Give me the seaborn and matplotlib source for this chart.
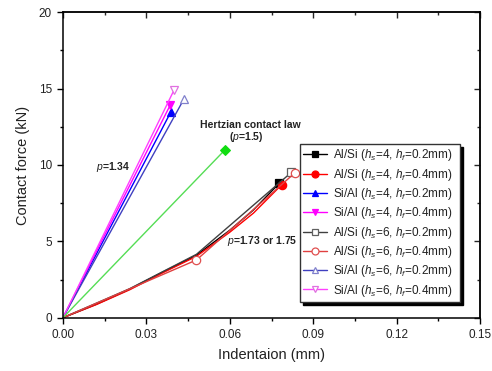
import matplotlib
matplotlib.use("Agg")
import matplotlib.pyplot as plt
import seaborn as sns
import pandas as pd
from matplotlib.ticker import MultipleLocator, FormatStrFormatter

sns.set_theme(style="white")
plt.rcParams['font.family'] = ['Liberation Sans', 'DejaVu Sans']
plt.rcParams['mathtext.fontset'] = 'custom'
plt.rcParams['mathtext.rm'] = 'Liberation Sans'
plt.rcParams['mathtext.it'] = 'Liberation Sans:italic'
plt.rcParams['mathtext.bf'] = 'Liberation Sans:bold'

# Indentation (mm) / contact force (kN) for each specimen
alsi_4_02_x = [0.0, 0.012, 0.024, 0.036, 0.048, 0.060, 0.0684, 0.0778]
alsi_4_02_y = [0.0, 0.88, 1.87, 3.00, 4.09, 5.73, 7.04, 8.81]
alsi_4_04_x = [0.0, 0.012, 0.024, 0.036, 0.048, 0.060, 0.0685, 0.0786]
alsi_4_04_y = [0.0, 0.86, 1.83, 2.95, 4.02, 5.60, 6.85, 8.70]
sial_4_02_x = [0.0, 0.0387]
sial_4_02_y = [0.0, 13.44]
sial_4_04_x = [0.0, 0.0385]
sial_4_04_y = [0.0, 13.90]
alsi_6_02_x = [0.0, 0.024, 0.048, 0.0821]
alsi_6_02_y = [0.0, 1.90, 4.15, 9.51]
alsi_6_04_x = [0.0, 0.048, 0.0833]
alsi_6_04_y = [0.0, 3.78, 9.47]
sial_6_02_x = [0.0, 0.0435]
sial_6_02_y = [0.0, 14.32]
sial_6_04_x = [0.0, 0.0400]
sial_6_04_y = [0.0, 14.93]
hertz_x = [0.0, 0.0583]
hertz_y = [0.0, 11.0]

labels = [
    r"Al/Si ($h_s$=4, $h_f$=0.2mm)",
    r"Al/Si ($h_s$=4, $h_f$=0.4mm)",
    r"Si/Al ($h_s$=4, $h_f$=0.2mm)",
    r"Si/Al ($h_s$=4, $h_f$=0.4mm)",
    r"Al/Si ($h_s$=6, $h_f$=0.2mm)",
    r"Al/Si ($h_s$=6, $h_f$=0.4mm)",
    r"Si/Al ($h_s$=6, $h_f$=0.2mm)",
    r"Si/Al ($h_s$=6, $h_f$=0.4mm)",
]

series = [
    (alsi_4_02_x, alsi_4_02_y, dict(color="#000000", marker="s", mfc="#000000", mec="#000000", every=[-1])),
    (alsi_4_04_x, alsi_4_04_y, dict(color="#ff0000", marker="o", mfc="#ff0000", mec="#ff0000", every=[-1])),
    (sial_4_02_x, sial_4_02_y, dict(color="#0000ff", marker="^", mfc="#0000ff", mec="#0000ff", every=[-1])),
    (sial_4_04_x, sial_4_04_y, dict(color="#ff00ff", marker="v", mfc="#ff00ff", mec="#ff00ff", every=[-1])),
    (alsi_6_02_x, alsi_6_02_y, dict(color="#404040", marker="s", mfc="white", mec="#606060", every=[-1])),
    (alsi_6_04_x, alsi_6_04_y, dict(color="#e04040", marker="o", mfc="white", mec="#e05050", every=[1, 2])),
    (sial_6_02_x, sial_6_02_y, dict(color="#4040c0", marker="^", mfc="white", mec="#8080cc", every=[-1])),
    (sial_6_04_x, sial_6_04_y, dict(color="#ff40ff", marker="v", mfc="white", mec="#e070e0", every=[-1])),
]

fig = plt.figure(figsize=(4.92, 3.71), dpi=100)
ax = fig.add_axes([0.128, 0.1437, 0.848, 0.8233])

handles = []
for (xs, ys, st), lab in zip(series, labels):
    df = pd.DataFrame({"x": xs, "y": ys})
    every = [i % len(xs) for i in st["every"]]
    sns.lineplot(data=df, x="x", y="y", ax=ax, sort=False, estimator=None,
                 color=st["color"], lw=1.0, marker=st["marker"], markersize=6,
                 markerfacecolor=st["mfc"], markeredgecolor=st["mec"],
                 markeredgewidth=0.9, markevery=every, label=lab)
    handles.append(ax.lines[-1])

hdf = pd.DataFrame({"x": hertz_x, "y": hertz_y})
sns.lineplot(data=hdf, x="x", y="y", ax=ax, sort=False, estimator=None,
             color="#55dd55", lw=1.0, marker="D", markersize=5,
             markerfacecolor="#11dd11", markeredgecolor="#11dd11",
             markevery=[1], legend=False)

ax.set_xlim(0, 0.15)
ax.set_ylim(0, 20)
ax.xaxis.set_major_locator(MultipleLocator(0.03))
ax.xaxis.set_minor_locator(MultipleLocator(0.015))
ax.yaxis.set_major_locator(MultipleLocator(5))
ax.yaxis.set_minor_locator(MultipleLocator(2.5))
ax.xaxis.set_major_formatter(FormatStrFormatter("%.2f"))
ax.yaxis.set_major_formatter(FormatStrFormatter("%d"))

for sp in ax.spines.values():
    sp.set_color("black")
    sp.set_linewidth(1.1)

ax.tick_params(which="both", direction="out", bottom=True, left=True,
               color="black", labelsize=8.5, labelcolor="#222222", width=1.0)
ax.tick_params(which="major", length=4.5)
ax.tick_params(which="minor", length=2.5)

# inward ticks on the mirrored top and right edges
top = ax.secondary_xaxis("top")
top.xaxis.set_major_locator(MultipleLocator(0.03))
top.xaxis.set_minor_locator(MultipleLocator(0.015))
top.tick_params(which="both", direction="in", labeltop=False, width=1.0)
top.tick_params(which="major", length=4.5)
top.tick_params(which="minor", length=2.5)
right = ax.secondary_yaxis("right")
right.yaxis.set_major_locator(MultipleLocator(5))
right.yaxis.set_minor_locator(MultipleLocator(2.5))
right.tick_params(which="both", direction="in", labelright=False, width=1.0)
right.tick_params(which="major", length=4.5)
right.tick_params(which="minor", length=2.5)
for s in (top, right):
    for sp in s.spines.values():
        sp.set_linewidth(1.1)

ax.set_xlabel("Indentaion (mm)", fontsize=10.5, color="#222222", labelpad=5)
ax.set_ylabel("Contact force (kN)", fontsize=10.5, color="#222222", labelpad=6)

ax.text(0.0673, 12.62, "Hertzian contact law", fontsize=7.5, fontweight="bold",
        ha="center", va="center", color="#222222")
ax.text(0.0658, 11.84, r"($\it{p}$=1.5)", fontsize=7.5, fontweight="bold",
        ha="center", va="center", color="#222222")
ax.text(0.0180, 9.87, r"$\it{p}$=1.34", fontsize=7.5, fontweight="bold",
        ha="center", va="center", color="#222222")
ax.text(0.0716, 5.02, r"$\it{p}$=1.73 or 1.75", fontsize=7.5, fontweight="bold",
        ha="center", va="center", color="#222222")

leg = ax.legend(handles, labels, loc="lower left", bbox_to_anchor=(0.568, 0.051, 0.384, 0.511),
                mode="expand", fontsize=8.5, frameon=True, fancybox=False,
                shadow={"color": "black", "alpha": 1.0}, framealpha=1,
                edgecolor="#333333", borderpad=0.3, labelspacing=0.28,
                handlelength=2.0, handletextpad=0.5, borderaxespad=0)
for h in leg.legend_handles:
    h.set_markersize(5)
for t in leg.get_texts():
    t.set_color("#222222")

fig.savefig("out.png", dpi=100, facecolor="white")
